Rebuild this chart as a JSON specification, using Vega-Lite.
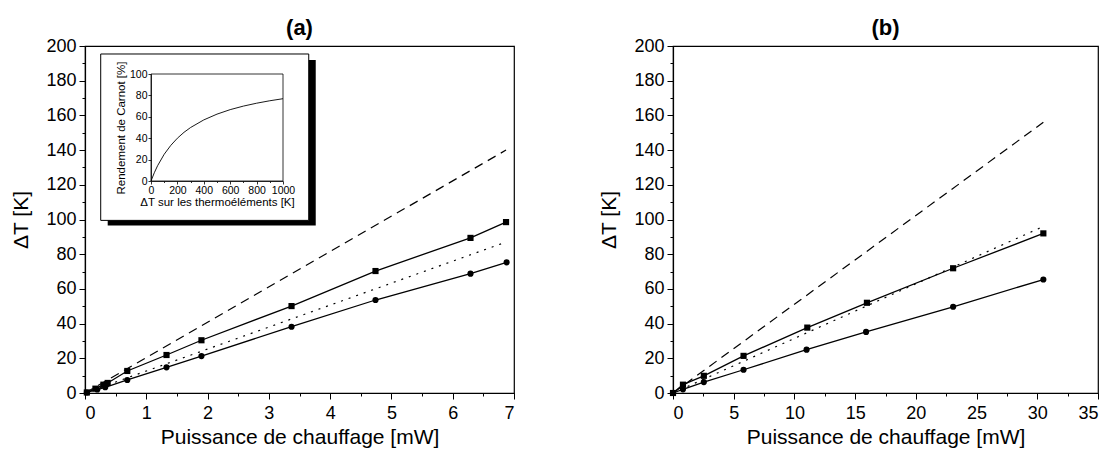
{
  "$schema": "https://vega.github.io/schema/vega-lite/v6.json",
  "background": "white",
  "padding": {"left": 10, "top": 16, "right": 4, "bottom": 0},
  "config": {
    "font": "Liberation Sans",
    "view": {"stroke": "black", "strokeWidth": 1.2},
    "axis": {
      "grid": false,
      "domainColor": "black",
      "domainWidth": 1.2,
      "tickColor": "black",
      "labelColor": "black",
      "titleColor": "black",
      "labelFont": "Liberation Sans",
      "titleFont": "Liberation Sans",
      "labelFontSize": 18,
      "titleFontSize": 21,
      "titleFontWeight": "normal",
      "labelPadding": 3
    },
    "title": {"font": "Liberation Sans", "fontSize": 22, "fontWeight": "bold", "color": "black", "offset": -3}
  },
  "datasets": {
    "a": [
      {"P": 0.03, "dT": 0.3, "s": "sq"}, {"P": 0.17, "dT": 2.5, "s": "sq"}, {"P": 0.3, "dT": 4.8, "s": "sq"}, {"P": 0.37, "dT": 5.8, "s": "sq"}, {"P": 0.69, "dT": 12.7, "s": "sq"}, {"P": 1.33, "dT": 21.9, "s": "sq"}, {"P": 1.9, "dT": 30.4, "s": "sq"}, {"P": 3.37, "dT": 50.1, "s": "sq"}, {"P": 4.74, "dT": 70.3, "s": "sq"}, {"P": 6.29, "dT": 89.4, "s": "sq"}, {"P": 6.87, "dT": 98.5, "s": "sq"},
      {"P": 0.03, "dT": 0.3, "s": "ci"}, {"P": 0.2, "dT": 2.0, "s": "ci"}, {"P": 0.33, "dT": 3.3, "s": "ci"}, {"P": 0.69, "dT": 7.5, "s": "ci"}, {"P": 1.33, "dT": 14.8, "s": "ci"}, {"P": 1.9, "dT": 21.3, "s": "ci"}, {"P": 3.37, "dT": 38.2, "s": "ci"}, {"P": 4.74, "dT": 53.6, "s": "ci"}, {"P": 6.29, "dT": 68.8, "s": "ci"}, {"P": 6.88, "dT": 75.3, "s": "ci"},
      {"P": 0, "dT": 0, "s": "dotted"}, {"P": 6.87, "dT": 87, "s": "dotted"},
      {"P": 0, "dT": 0, "s": "dashed"}, {"P": 6.87, "dT": 140, "s": "dashed"}
    ],
    "b": [
      {"P": 0, "dT": 0, "s": "sq"}, {"P": 0.82, "dT": 4.8, "s": "sq"}, {"P": 2.54, "dT": 9.9, "s": "sq"}, {"P": 5.81, "dT": 21.4, "s": "sq"}, {"P": 11.06, "dT": 37.7, "s": "sq"}, {"P": 15.97, "dT": 52.0, "s": "sq"}, {"P": 23.07, "dT": 71.9, "s": "sq"}, {"P": 30.5, "dT": 92.0, "s": "sq"},
      {"P": 0, "dT": 0, "s": "ci"}, {"P": 0.82, "dT": 2.1, "s": "ci"}, {"P": 2.54, "dT": 6.3, "s": "ci"}, {"P": 5.81, "dT": 13.4, "s": "ci"}, {"P": 11.0, "dT": 25.0, "s": "ci"}, {"P": 15.9, "dT": 35.2, "s": "ci"}, {"P": 23.07, "dT": 49.7, "s": "ci"}, {"P": 30.5, "dT": 65.4, "s": "ci"},
      {"P": 0, "dT": 0, "s": "dotted"}, {"P": 30.5, "dT": 96, "s": "dotted"},
      {"P": 0, "dT": 0, "s": "dashed"}, {"P": 30.5, "dT": 156, "s": "dashed"}
    ],
    "carnot": [
      {"dT": 0, "eta": 0}, {"dT": 25, "eta": 7.7}, {"dT": 50, "eta": 14.3}, {"dT": 100, "eta": 25.0}, {"dT": 150, "eta": 33.3}, {"dT": 200, "eta": 40.0}, {"dT": 250, "eta": 45.5}, {"dT": 300, "eta": 50.0}, {"dT": 400, "eta": 57.1}, {"dT": 500, "eta": 62.5}, {"dT": 600, "eta": 66.7}, {"dT": 700, "eta": 70.0}, {"dT": 800, "eta": 72.7}, {"dT": 900, "eta": 75.0}, {"dT": 1000, "eta": 76.9}
    ]
  },
  "hconcat": [
    {
      "title": "(a)",
      "width": 429,
      "height": 347,
      "layer": [
        {
          "data": {"name": "a"},
          "encoding": {
            "x": {"field": "P", "type": "quantitative", "scale": {"domain": [0, 7], "nice": false},
              "axis": {"title": "Puissance de chauffage [mW]", "values": [0, 0.5, 1, 1.5, 2, 2.5, 3, 3.5, 4, 4.5, 5, 5.5, 6, 6.5, 7],
                "labelExpr": "datum.value % 1 === 0 ? format(datum.value, 'd') : ''", "labelPadding": 5,
                "tickSize": {"condition": {"test": "datum.value % 1 !== 0", "value": 3}, "value": 6}, "titlePadding": 4}},
            "y": {"field": "dT", "type": "quantitative", "scale": {"domain": [0, 200], "nice": false},
              "axis": {"title": "ΔT [K]", "values": [0, 10, 20, 30, 40, 50, 60, 70, 80, 90, 100, 110, 120, 130, 140, 150, 160, 170, 180, 190, 200],
                "labelExpr": "datum.value % 20 === 0 ? datum.label : ''",
                "tickSize": {"condition": {"test": "datum.value % 20 !== 0", "value": 3}, "value": 6}, "titlePadding": 14}}
          },
          "layer": [
            {"transform": [{"filter": "datum.s === 'dashed' || datum.s === 'dotted'"}],
              "mark": {"type": "line", "color": "black", "strokeWidth": 1.2},
              "encoding": {"strokeDash": {"field": "s", "type": "nominal", "scale": {"domain": ["dashed", "dotted"], "range": [[9, 6], [2, 6]]}, "legend": null}}},
            {"transform": [{"filter": "datum.s === 'sq' || datum.s === 'ci'"}],
              "mark": {"type": "line", "color": "black", "strokeWidth": 1.3},
              "encoding": {"detail": {"field": "s", "type": "nominal"}}},
            {"transform": [{"filter": "datum.s === 'sq' || datum.s === 'ci'"}],
              "mark": {"type": "point", "filled": true, "color": "black", "opacity": 1, "size": 38},
              "encoding": {"shape": {"field": "s", "type": "nominal", "scale": {"domain": ["sq", "ci"], "range": ["square", "circle"]}, "legend": null}}}
          ]
        },
        {
          "layer": [
            {"data": {"values": [{}]}, "mark": {"type": "rect", "fill": "black"},
              "encoding": {"x": {"datum": -328, "type": "quantitative"}, "x2": {"datum": 1248}, "y": {"datum": 113, "type": "quantitative"}, "y2": {"datum": -41.5}}},
            {"data": {"values": [{}]}, "mark": {"type": "rect", "fill": "white", "stroke": "black", "strokeWidth": 1},
              "encoding": {"x": {"datum": -381, "type": "quantitative"}, "x2": {"datum": 1195}, "y": {"datum": 118.7, "type": "quantitative"}, "y2": {"datum": -36.8}}},
            {"data": {"values": [{}]}, "mark": {"type": "rect", "fill": null, "fillOpacity": 0, "stroke": "black", "strokeWidth": 0.8},
              "encoding": {"x": {"datum": 0, "type": "quantitative"}, "x2": {"datum": 1000}, "y": {"datum": 0, "type": "quantitative"}, "y2": {"datum": 100}}},
            {"data": {"name": "carnot"}, "mark": {"type": "line", "color": "black", "strokeWidth": 0.9},
              "encoding": {
                "x": {"field": "dT", "type": "quantitative", "scale": {"domain": [0, 1000], "range": [66, 198], "nice": false},
                  "axis": {"orient": "bottom", "offset": -212, "zindex": 2, "title": "ΔT sur les thermoéléments [K]", "values": [0, 100, 200, 300, 400, 500, 600, 700, 800, 900, 1000],
                    "labelExpr": "datum.value % 200 === 0 ? format(datum.value, 'd') : ''", "labelOverlap": false, "labelFlush": false, "labelBound": false,
                    "labelFontSize": 10.5, "titleFontSize": 11.5, "tickSize": {"condition": {"test": "datum.value % 200 !== 0", "value": 1.5}, "value": 3}, "labelPadding": 1, "titlePadding": 1, "domainWidth": 0.8, "tickWidth": 0.8}},
                "y": {"field": "eta", "type": "quantitative", "scale": {"domain": [0, 100], "range": [135, 28], "nice": false},
                  "axis": {"orient": "left", "offset": -66, "zindex": 2, "title": "Rendement de Carnot [%]", "values": [0, 10, 20, 30, 40, 50, 60, 70, 80, 90, 100],
                    "labelExpr": "datum.value % 20 === 0 ? datum.label : ''", "labelOverlap": false, "labelFlush": false, "labelBound": false,
                    "labelFontSize": 10.5, "titleFontSize": 11.5, "tickSize": {"condition": {"test": "datum.value % 20 !== 0", "value": 1.5}, "value": 3}, "labelPadding": 1, "titlePadding": 3, "domainWidth": 0.8, "tickWidth": 0.8}}
              }}
          ]
        }
      ],
      "resolve": {"scale": {"x": "independent", "y": "independent"}, "axis": {"x": "independent", "y": "independent"}}
    },
    {
      "title": "(b)",
      "width": 425,
      "height": 347,
      "data": {"name": "b"},
      "encoding": {
        "x": {"field": "P", "type": "quantitative", "scale": {"domain": [0, 35], "nice": false},
          "axis": {"title": "Puissance de chauffage [mW]", "values": [0, 2.5, 5, 7.5, 10, 12.5, 15, 17.5, 20, 22.5, 25, 27.5, 30, 32.5, 35],
            "labelExpr": "datum.value % 5 === 0 ? format(datum.value, 'd') : ''", "labelPadding": 5,
            "tickSize": {"condition": {"test": "datum.value % 5 !== 0", "value": 3}, "value": 6}, "titlePadding": 4}},
        "y": {"field": "dT", "type": "quantitative", "scale": {"domain": [0, 200], "nice": false},
          "axis": {"title": "ΔT [K]", "values": [0, 10, 20, 30, 40, 50, 60, 70, 80, 90, 100, 110, 120, 130, 140, 150, 160, 170, 180, 190, 200],
            "labelExpr": "datum.value % 20 === 0 ? datum.label : ''",
            "tickSize": {"condition": {"test": "datum.value % 20 !== 0", "value": 3}, "value": 6}, "titlePadding": 14}}
      },
      "layer": [
        {"transform": [{"filter": "datum.s === 'dashed' || datum.s === 'dotted'"}],
          "mark": {"type": "line", "color": "black", "strokeWidth": 1.2},
          "encoding": {"strokeDash": {"field": "s", "type": "nominal", "scale": {"domain": ["dashed", "dotted"], "range": [[9, 6], [2, 6]]}, "legend": null}}},
        {"transform": [{"filter": "datum.s === 'sq' || datum.s === 'ci'"}],
          "mark": {"type": "line", "color": "black", "strokeWidth": 1.3},
          "encoding": {"detail": {"field": "s", "type": "nominal"}}},
        {"transform": [{"filter": "datum.s === 'sq' || datum.s === 'ci'"}],
          "mark": {"type": "point", "filled": true, "color": "black", "opacity": 1, "size": 38},
          "encoding": {"shape": {"field": "s", "type": "nominal", "scale": {"domain": ["sq", "ci"], "range": ["square", "circle"]}, "legend": null}}}
      ]
    }
  ],
  "spacing": 82
}
